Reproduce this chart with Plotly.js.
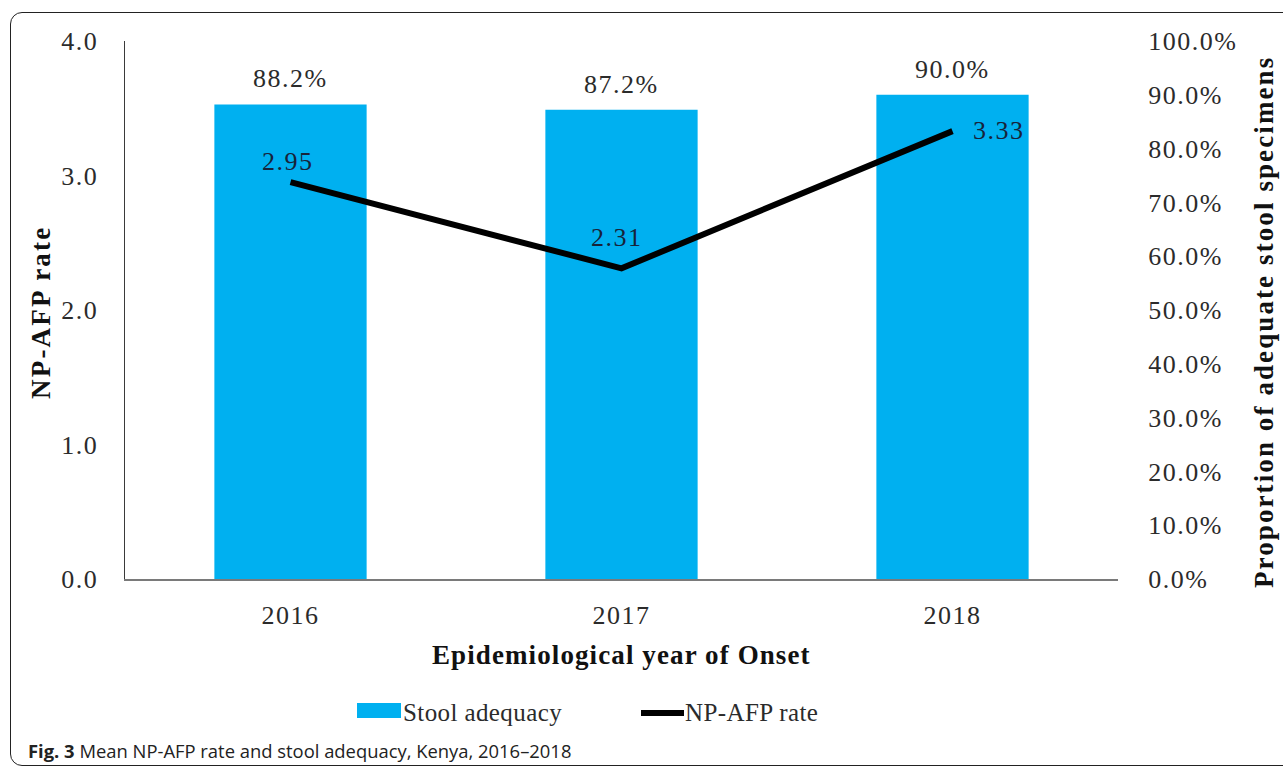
<!DOCTYPE html>
<html>
<head>
<meta charset="utf-8">
<script src="https://cdn.plot.ly/plotly-3.0.1.min.js"></script>
<style>
  html, body { margin: 0; padding: 0; background: #fff; }
  #wrap { position: relative; width: 1283px; height: 770px; overflow: hidden; }
  #frame { position: absolute; left: 10px; top: 12px; width: 1300px; height: 754px;
           border: 1.6px solid #222; border-radius: 12px; box-sizing: border-box; }
  #chart { position: absolute; left: 0; top: 0; width: 1283px; height: 770px; }
  .xtick text, .ytick text, .y2tick text { letter-spacing: 1.5px; }
</style>
</head>
<body>
<div id="wrap">
  <div id="frame"></div>
  <div id="chart"></div>
</div>
<script>
const years = ['2016', '2017', '2018'];
const stoolAdequacy = [0.882, 0.872, 0.900];
const npAfpRate = [2.95, 2.31, 3.33];
const rateTicks = [0, 1, 2, 3, 4];
const percentTicks = [0, 0.1, 0.2, 0.3, 0.4, 0.5, 0.6, 0.7, 0.8, 0.9, 1.0];
const rateLabelPos = ['above', 'above', 'right'];
const seriesNames = ['Stool adequacy', 'NP-AFP rate'];
const xTitle = 'Epidemiological year of Onset';
const rateTitle = 'NP-AFP rate';
const percentTitle = 'Proportion of adequate stool specimens';
const caption = ['Fig. 3', 'Mean NP-AFP rate and stool adequacy, Kenya, 2016\u20132018'];

const SERIF = '"Liberation Serif", "Times New Roman", serif';
const TXT = '#2b2b2b';
const BAR = '#00B0F0';
const sp = (t, s) => '<span style="letter-spacing:' + s + 'px">' + t + '</span>';

// paper-coordinate helpers for the 993x538 plot area (l=125, t=41)
const PX = px => (px - 125) / 993;
const PY = py => (579 - py) / 538;

// bars on the primary (right-side, percent) axis, line on the overlaying (left-side, rate) axis
const traces = [
  {
    type: 'bar', name: seriesNames[0], x: years, y: stoolAdequacy, yaxis: 'y',
    marker: { color: BAR }, hoverinfo: 'skip', showlegend: false
  },
  {
    type: 'scatter', mode: 'lines', name: seriesNames[1], x: years, y: npAfpRate, yaxis: 'y2',
    line: { color: '#000', width: 6 }, hoverinfo: 'skip', showlegend: false
  }
];

const annotations = [];
years.forEach((yr, i) => {
  annotations.push({
    x: i, y: stoolAdequacy[i], xref: 'x', yref: 'y',
    text: sp((stoolAdequacy[i] * 100).toFixed(1) + '%', 1.5), showarrow: false,
    yanchor: 'bottom', yshift: 9, font: { family: SERIF, size: 26, color: TXT }
  });
  const right = rateLabelPos[i] === 'right';
  annotations.push({
    x: i, y: npAfpRate[i], xref: 'x', yref: 'y2',
    text: sp(npAfpRate[i].toFixed(2), 1.5), showarrow: false,
    xanchor: right ? 'left' : 'center',
    yanchor: right ? 'middle' : 'bottom',
    xshift: right ? 18 : (i === 0 ? -3 : -5),
    yshift: right ? 1 : (i === 0 ? 4 : 14),
    font: { family: SERIF, size: 26, color: '#17233a' }
  });
});

// axis titles
annotations.push({
  xref: 'paper', yref: 'paper', x: PX(41), y: PY(313), textangle: -90,
  text: '<b>' + sp(rateTitle, 2.2) + '</b>', showarrow: false, xanchor: 'center', yanchor: 'middle',
  font: { family: SERIF, size: 27, color: '#111' }
});
annotations.push({
  xref: 'paper', yref: 'paper', x: PX(1264), y: PY(322), textangle: -90,
  text: '<b>' + sp(percentTitle, 2.1) + '</b>', showarrow: false,
  xanchor: 'center', yanchor: 'middle',
  font: { family: SERIF, size: 27, color: '#111' }
});
annotations.push({
  xref: 'paper', yref: 'paper', x: PX(621), y: PY(655),
  text: '<b>' + sp(xTitle, 1.1) + '</b>', showarrow: false,
  xanchor: 'center', yanchor: 'middle',
  font: { family: SERIF, size: 27, color: '#111' }
});
// legend texts
annotations.push({
  xref: 'paper', yref: 'paper', x: PX(403), y: PY(712), xshift: -2,
  text: sp(seriesNames[0], 0.4), showarrow: false, xanchor: 'left', yanchor: 'middle',
  font: { family: SERIF, size: 25, color: TXT }
});
annotations.push({
  xref: 'paper', yref: 'paper', x: PX(685), y: PY(712), xshift: -2,
  text: sp(seriesNames[1], 0.4), showarrow: false, xanchor: 'left', yanchor: 'middle',
  font: { family: SERIF, size: 25, color: TXT }
});
// caption
annotations.push({
  xref: 'paper', yref: 'paper', x: PX(26), y: PY(750),
  text: '<b>' + caption[0] + '</b> ' + caption[1],
  showarrow: false, xanchor: 'left', yanchor: 'middle',
  font: { family: '"Open Sans", "Noto Sans", sans-serif', size: 18.4, color: '#222' }
});

const shapes = [
  { type: 'rect', xref: 'paper', yref: 'paper', x0: PX(357), x1: PX(401), y0: PY(718), y1: PY(703),
    fillcolor: BAR, line: { width: 0 } },
  { type: 'line', xref: 'paper', yref: 'paper', x0: PX(641), x1: PX(684), y0: PY(713), y1: PY(713),
    line: { color: '#000', width: 6 } }
];

const layout = {
  width: 1283, height: 770,
  margin: { l: 125, r: 165, t: 41, b: 191 },
  paper_bgcolor: 'rgba(0,0,0,0)', plot_bgcolor: 'rgba(0,0,0,0)',
  font: { family: SERIF, size: 26, color: TXT },
  bargap: 0.54,
  showlegend: false,
  xaxis: {
    type: 'category', range: [-0.5, 2.5], showgrid: false, zeroline: false,
    showline: true, linecolor: '#7a7a7a', linewidth: 1.5,
    ticks: 'outside', ticklen: 12, tickcolor: 'rgba(0,0,0,0)',
    tickfont: { family: SERIF, size: 26, color: TXT }, fixedrange: true
  },
  yaxis: {
    range: [0, 1], tickvals: percentTicks, tickformat: '.1%', side: 'right',
    showgrid: false, zeroline: false, showline: false,
    ticks: 'outside', ticklen: 24, tickcolor: 'rgba(0,0,0,0)',
    tickfont: { family: SERIF, size: 26, color: TXT }, fixedrange: true
  },
  yaxis2: {
    range: [0, 4], tickvals: rateTicks, tickformat: '.1f', overlaying: 'y', side: 'left',
    showgrid: false, zeroline: false, showline: true, linecolor: '#3a3a3a', linewidth: 1.5,
    ticks: 'outside', ticklen: 20, tickcolor: 'rgba(0,0,0,0)',
    tickfont: { family: SERIF, size: 26, color: TXT }, fixedrange: true
  },
  annotations: annotations,
  shapes: shapes
};

Plotly.newPlot('chart', traces, layout, { displayModeBar: false, staticPlot: true });
</script>
</body>
</html>
